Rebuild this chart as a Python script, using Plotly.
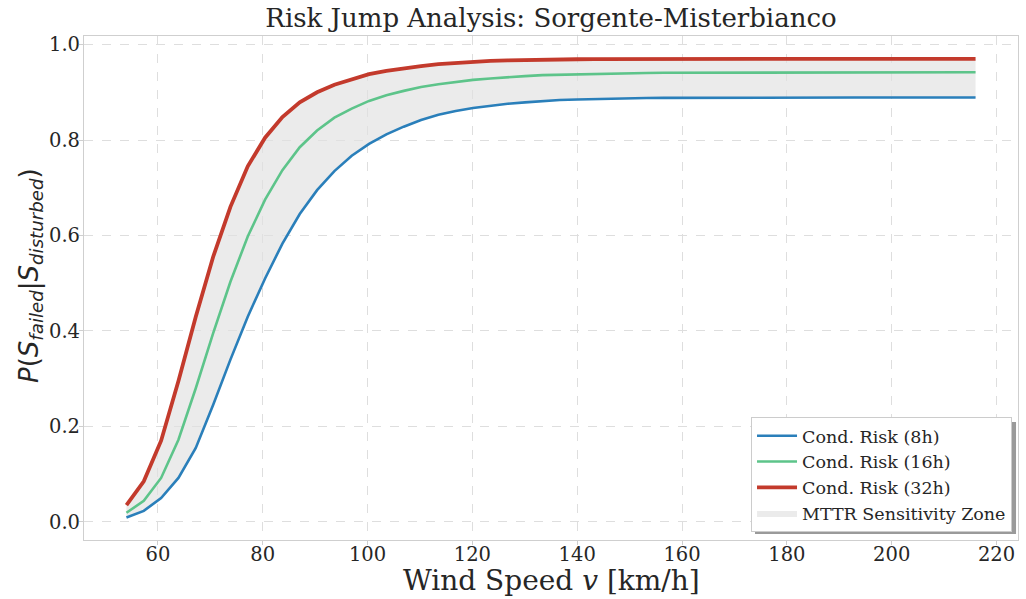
import numpy as np
import plotly.graph_objects as go

wind_speed = list(np.linspace(54, 216, 50))

risk_8h = [0.009, 0.023, 0.05, 0.092, 0.155, 0.245, 0.34, 0.43, 0.51, 0.583,
           0.645, 0.695, 0.735, 0.767, 0.792, 0.812, 0.828, 0.842, 0.853, 0.861,
           0.867, 0.872, 0.876, 0.879, 0.882, 0.884, 0.885, 0.886, 0.887, 0.8875,
           0.888, 0.8883, 0.8885, 0.8887, 0.8888, 0.889, 0.889, 0.889, 0.889, 0.889,
           0.889, 0.889, 0.889, 0.889, 0.889, 0.889, 0.889, 0.889, 0.889, 0.889]

risk_16h = [0.019, 0.044, 0.092, 0.172, 0.28, 0.395, 0.503, 0.598, 0.675, 0.737,
            0.785, 0.82, 0.847, 0.866, 0.882, 0.894, 0.903, 0.911, 0.917, 0.922,
            0.926, 0.929, 0.932, 0.934, 0.936, 0.937, 0.938, 0.939, 0.9395, 0.94,
            0.9405, 0.941, 0.941, 0.9413, 0.9415, 0.9417, 0.9418, 0.942, 0.942, 0.942,
            0.942, 0.942, 0.942, 0.942, 0.942, 0.942, 0.942, 0.942, 0.942, 0.942]

risk_32h = [0.035, 0.085, 0.17, 0.295, 0.43, 0.555, 0.66, 0.745, 0.805, 0.848,
            0.879, 0.9, 0.916, 0.928, 0.938, 0.945, 0.951, 0.955, 0.959, 0.962,
            0.964, 0.966, 0.967, 0.968, 0.9685, 0.969, 0.9693, 0.9695, 0.9697, 0.9698,
            0.97, 0.97, 0.97, 0.97, 0.97, 0.97, 0.97, 0.97, 0.97, 0.97,
            0.97, 0.97, 0.97, 0.97, 0.97, 0.97, 0.97, 0.97, 0.97, 0.97]

x_ticks = [60, 80, 100, 120, 140, 160, 180, 200, 220]
y_ticks = [0.0, 0.2, 0.4, 0.6, 0.8, 1.0]

SERIF = "DejaVu Serif"
BLUE = "#2a7fba"
GREEN = "#5dc48a"
RED = "#c33a2c"
TXT = "#262626"

fig = go.Figure()

# Sensitivity zone (fill between 8h and 32h)
fig.add_trace(go.Scatter(x=wind_speed, y=risk_8h, mode="lines",
                         line=dict(width=0, color="rgba(0,0,0,0)"),
                         showlegend=False, hoverinfo="skip"))
fig.add_trace(go.Scatter(x=wind_speed, y=risk_32h, mode="lines", fill="tonexty",
                         fillcolor="rgba(224,224,224,0.65)",
                         line=dict(width=0, color="rgba(0,0,0,0)"),
                         name="MTTR Sensitivity Zone", legendrank=4))

fig.add_trace(go.Scatter(x=wind_speed, y=risk_8h, mode="lines",
                         line=dict(color=BLUE, width=2.6),
                         name="Cond. Risk (8h)", legendrank=1))
fig.add_trace(go.Scatter(x=wind_speed, y=risk_16h, mode="lines",
                         line=dict(color=GREEN, width=2.6),
                         name="Cond. Risk (16h)", legendrank=2))
fig.add_trace(go.Scatter(x=wind_speed, y=risk_32h, mode="lines",
                         line=dict(color=RED, width=3.8),
                         name="Cond. Risk (32h)", legendrank=3))

axis_common = dict(
    showgrid=True, gridcolor="#dedede", griddash="dash", gridwidth=1,
    showline=True, linecolor="#cfcfcf", linewidth=1.2, mirror=True,
    ticks="outside", ticklen=4, tickcolor="#cfcfcf", tickwidth=1,
    zeroline=False, automargin=False,
    tickfont=dict(family=SERIF, size=19.5, color=TXT),
)

fig.update_layout(
    width=1026, height=599,
    margin=dict(l=84, r=8, t=36, b=59),
    paper_bgcolor="white", plot_bgcolor="white",
    title=dict(text="Risk Jump Analysis: Sorgente-Misterbianco",
               x=(84 + 1018) / 2 / 1026, xanchor="center",
               y=1 - 18 / 599, yanchor="middle",
               font=dict(family=SERIF, size=26, color=TXT)),
    xaxis=dict(range=[45.9, 224.1], tickvals=x_ticks, ticklabelstandoff=-8,
               **axis_common),
    yaxis=dict(range=[-0.038, 1.018], tickvals=y_ticks, tickformat=".1f",
               ticklabelstandoff=-5, **axis_common),
    legend=dict(x=0.9936, xanchor="right", y=0.016, yanchor="bottom",
                bgcolor="white", bordercolor="#cccccc", borderwidth=1,
                font=dict(family=SERIF, size=17.5, color=TXT),
                traceorder="normal", itemwidth=40),
    shapes=[dict(type="rect", xref="paper", yref="paper",
                 x0=0.7184, x1=0.9979, y0=0.0119, y1=0.234,
                 fillcolor="#9a9a9a", line=dict(width=0), layer="above")],
    annotations=[
        dict(text="Wind Speed <i>v</i> [km/h]", xref="paper", yref="paper",
             x=0.5, y=-(580 - 540) / 504, xanchor="center", yanchor="middle",
             showarrow=False, font=dict(family=SERIF, size=28, color=TXT)),
        dict(text="<i>P</i>(<i>S</i><sub><i>failed</i></sub>|<i>S</i><sub><i>disturbed</i></sub>)",
             xref="paper", yref="paper", textangle=-90,
             x=-(84 - 30) / 934, y=(540 - 276) / 504,
             xanchor="center", yanchor="middle", showarrow=False,
             font=dict(family="DejaVu Sans", size=26, color=TXT)),
    ],
    showlegend=True,
)

fig.write_html("out.html")
